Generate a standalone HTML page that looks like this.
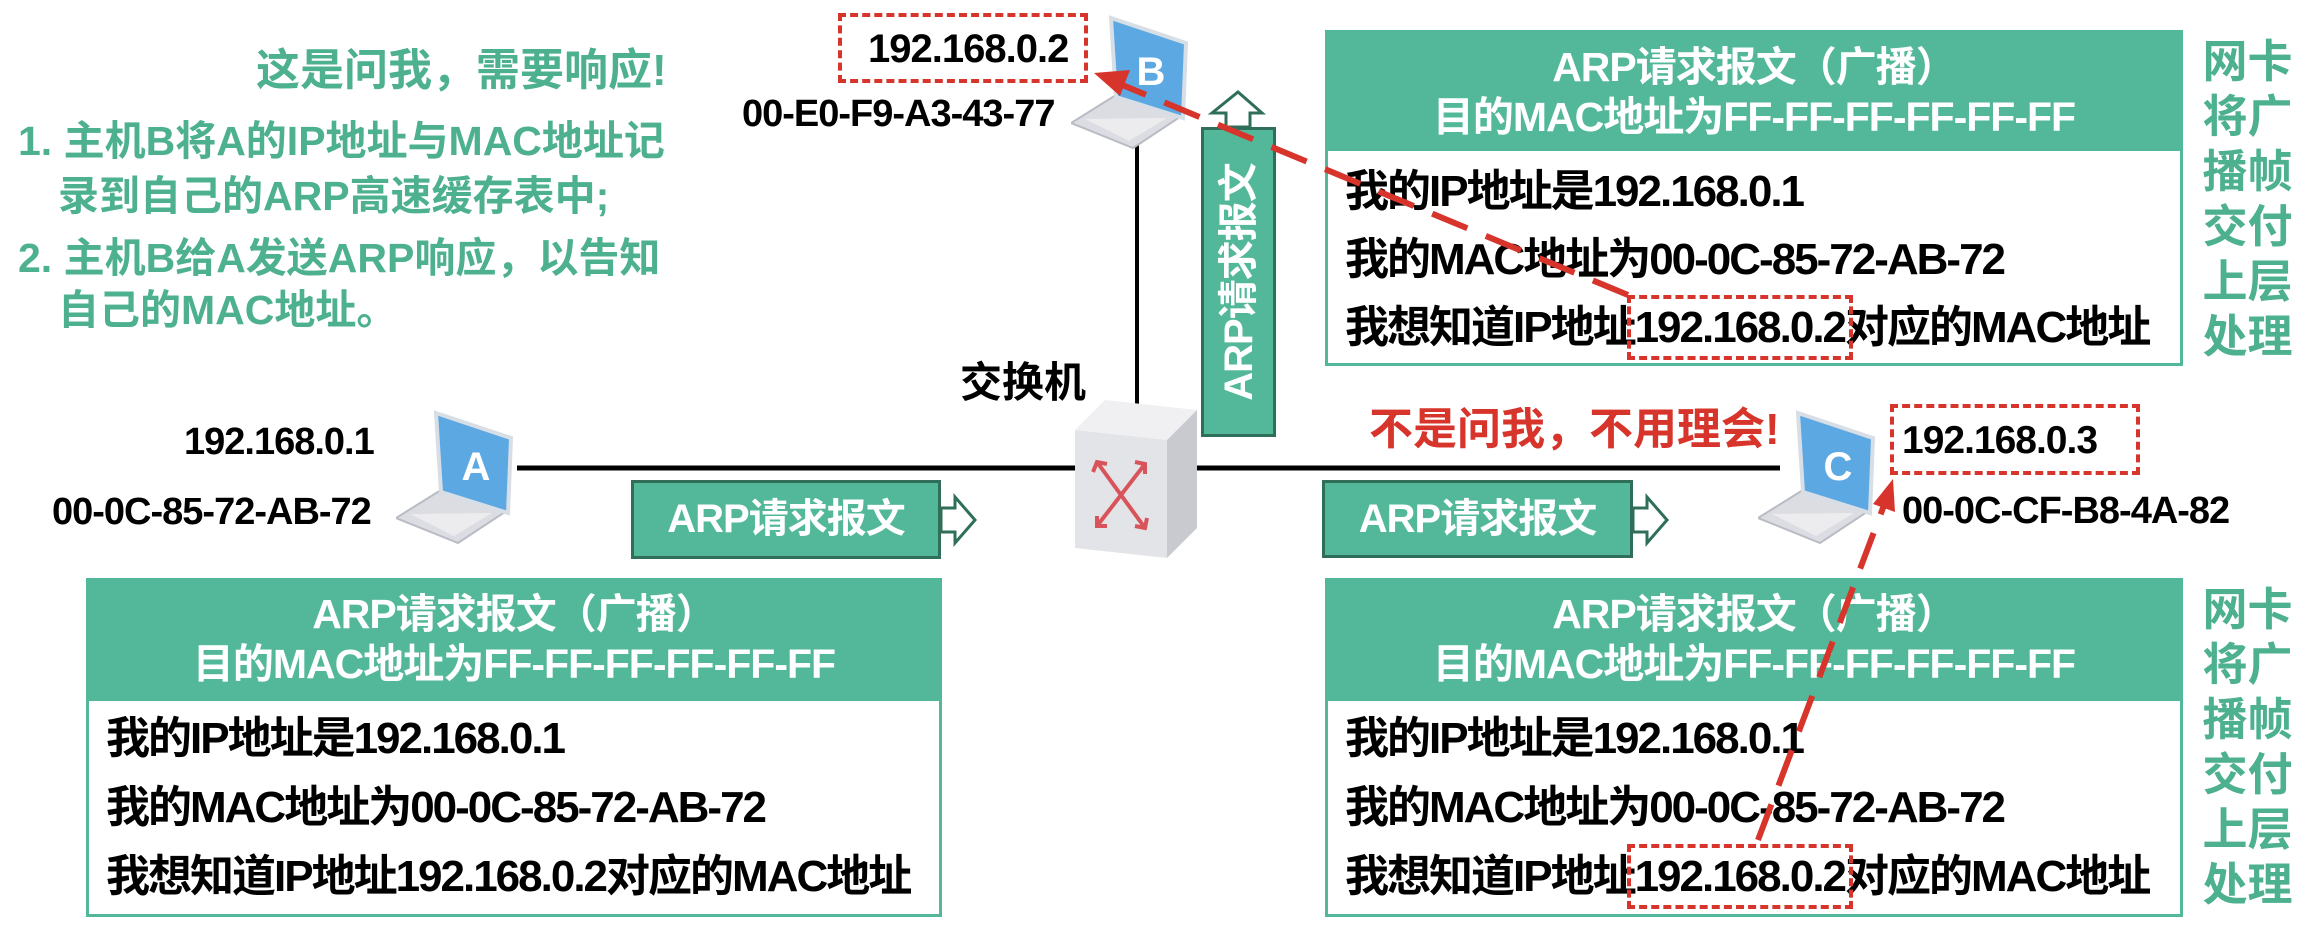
<!DOCTYPE html>
<html><head><meta charset="utf-8">
<style>
*{margin:0;padding:0;box-sizing:border-box}
body{width:2316px;height:930px;background:#fff;position:relative;overflow:hidden;font-family:"Liberation Sans","Noto Sans CJK SC",sans-serif;font-weight:bold}
.t{position:absolute;white-space:nowrap;line-height:50px;height:50px}
.g{color:#4db08f;font-size:41px}
.k{color:#000;font-size:38px;letter-spacing:-1px}
.tbl{position:absolute;border:3px solid #53b899;background:#fff}
.hd{background:#53b899;color:#fff;font-size:41px;text-align:center;letter-spacing:-1px}
.hd div{height:50px;line-height:50px}
.bl{position:absolute;left:17px;font-size:44px;letter-spacing:-2px;color:#000;line-height:50px;height:50px;white-space:nowrap}
.ds{outline:4px dashed #d7342c;outline-offset:4px}
.ab{position:absolute;background:#53b899;border:3px solid #2f6e58;color:#fff;font-size:40px;text-align:center;letter-spacing:-1px}
.vt{position:absolute;color:#4db08f;font-size:45px;width:95px;line-height:55px;text-align:center;letter-spacing:0}
.dash{position:absolute;border:4px dashed #d7342c}
</style></head><body>

<div class="t g" style="left:256px;top:46px;font-size:44px">这是问我，需要响应!</div>
<div class="t g" style="left:18px;top:116px;">1. 主机B将A的IP地址与MAC地址记</div>
<div class="t g" style="left:58px;top:171px;">录到自己的ARP高速缓存表中;</div>
<div class="t g" style="left:18px;top:233px;">2. 主机B给A发送ARP响应，以告知</div>
<div class="t g" style="left:58px;top:285px;">自己的MAC地址。</div>

<svg style="position:absolute;left:0;top:0" width="2316" height="930">
<line x1="517" y1="468" x2="1780" y2="468" stroke="#000" stroke-width="5"/>
<line x1="1137" y1="140" x2="1137" y2="410" stroke="#000" stroke-width="4"/>
</svg>

<div class="dash" style="left:838px;top:13px;width:250px;height:70px;"></div>
<div class="t k" style="left:868px;top:24px;font-size:40px">192.168.0.2</div>
<div class="t k" style="left:742px;top:89px;">00-E0-F9-A3-43-77</div>

<div class="t k" style="left:184px;top:417px;">192.168.0.1</div>
<div class="t k" style="left:52px;top:487px;">00-0C-85-72-AB-72</div>

<div class="t" style="left:960px;top:358px;font-size:42px;color:#000">交换机</div>

<svg style="position:absolute;left:1071px;top:15px" width="125" height="135" viewBox="0 0 125 135">
<polygon points="45,80 112,100 62,133 0,108" fill="#dcdde2" stroke="#b9bcc4" stroke-width="2"/>
<polygon points="14,104 96,103 58,126" fill="#ececef"/>
<polygon points="40,3 115,28 112,103 45,82" fill="#5ca8e2" stroke="#d8dee6" stroke-width="4"/>
<text x="80" y="70" font-size="40" font-family="Liberation Sans" font-weight="bold" fill="#fff" text-anchor="middle">B</text>
</svg>
<svg style="position:absolute;left:396px;top:410px" width="125" height="135" viewBox="0 0 125 135">
<polygon points="45,80 112,100 62,133 0,108" fill="#dcdde2" stroke="#b9bcc4" stroke-width="2"/>
<polygon points="14,104 96,103 58,126" fill="#ececef"/>
<polygon points="40,3 115,28 112,103 45,82" fill="#5ca8e2" stroke="#d8dee6" stroke-width="4"/>
<text x="80" y="70" font-size="40" font-family="Liberation Sans" font-weight="bold" fill="#fff" text-anchor="middle">A</text>
</svg>
<svg style="position:absolute;left:1758px;top:410px" width="125" height="135" viewBox="0 0 125 135">
<polygon points="45,80 112,100 62,133 0,108" fill="#dcdde2" stroke="#b9bcc4" stroke-width="2"/>
<polygon points="14,104 96,103 58,126" fill="#ececef"/>
<polygon points="40,3 115,28 112,103 45,82" fill="#5ca8e2" stroke="#d8dee6" stroke-width="4"/>
<text x="80" y="70" font-size="40" font-family="Liberation Sans" font-weight="bold" fill="#fff" text-anchor="middle">C</text>
</svg>

<svg style="position:absolute;left:1075px;top:400px" width="125" height="160" viewBox="0 0 125 160">
<polygon points="0,30 30,0 122,10 92,40" fill="#f0f0f3"/>
<polygon points="92,40 122,10 122,128 92,158" fill="#c9cad0"/>
<polygon points="0,30 92,40 92,158 0,148" fill="#e3e4e8"/>
<g stroke="#d8545a" stroke-width="4" fill="none">
<line x1="22" y1="62" x2="70" y2="128"/><line x1="70" y1="64" x2="22" y2="126"/>
<polyline points="18,72 22,62 32,64"/><polyline points="60,126 70,128 72,118"/>
<polyline points="60,62 70,64 70,74"/><polyline points="22,116 22,126 32,126"/>
</g>
</svg>

<div class="ab" style="left:631px;top:480px;width:310px;height:79px;line-height:72px">ARP请求报文</div>
<div class="ab" style="left:1322px;top:480px;width:311px;height:78px;line-height:72px">ARP请求报文</div>
<div class="ab" style="left:1201px;top:127px;width:75px;height:310px;"></div>
<div style="position:absolute;left:1239px;top:282px;width:0;height:0;">
<div style="position:absolute;left:-155px;top:-25px;width:310px;height:50px;line-height:50px;transform:rotate(-90deg);color:#fff;font-size:40px;text-align:center;white-space:nowrap;letter-spacing:-1px">ARP请求报文</div></div>
<svg style="position:absolute;left:0;top:0" width="2316" height="930">
<g fill="#fff" stroke="#2f6e58" stroke-width="3">
<polygon points="941,508 955,508 955,497 975,520 955,543 955,532 941,532"/>
<polygon points="1633,508 1647,508 1647,497 1667,520 1647,543 1647,532 1633,532"/>
<polygon points="1226,127 1226,113 1212,113 1238,92 1262,113 1250,113 1250,127"/>
</g>
</svg>

<div class="tbl" style="left:1325px;top:30px;width:858px;height:336px;">
<div class="hd" style="height:118px;padding-top:9px"><div>ARP请求报文（广播）</div><div>目的MAC地址为FF-FF-FF-FF-FF-FF</div></div>
<div class="bl" style="top:134px">我的IP地址是192.168.0.1</div>
<div class="bl" style="top:202px">我的MAC地址为00-0C-85-72-AB-72</div>
<div class="bl" style="top:270px">我想知道IP地址<span class="ds">192.168.0.2</span>对应的MAC地址</div>
</div>

<div class="tbl" style="left:86px;top:578px;width:856px;height:339px;">
<div class="hd" style="height:120px;padding-top:8px"><div>ARP请求报文（广播）</div><div>目的MAC地址为FF-FF-FF-FF-FF-FF</div></div>
<div class="bl" style="top:133px">我的IP地址是192.168.0.1</div>
<div class="bl" style="top:202px">我的MAC地址为00-0C-85-72-AB-72</div>
<div class="bl" style="top:271px">我想知道IP地址192.168.0.2对应的MAC地址</div>
</div>

<div class="tbl" style="left:1325px;top:578px;width:858px;height:339px;">
<div class="hd" style="height:120px;padding-top:8px"><div>ARP请求报文（广播）</div><div>目的MAC地址为FF-FF-FF-FF-FF-FF</div></div>
<div class="bl" style="top:133px">我的IP地址是192.168.0.1</div>
<div class="bl" style="top:202px">我的MAC地址为00-0C-85-72-AB-72</div>
<div class="bl" style="top:271px">我想知道IP地址<span class="ds">192.168.0.2</span>对应的MAC地址</div>
</div>

<div class="vt" style="left:2200px;top:34px">网卡<br>将广<br>播帧<br>交付<br>上层<br>处理</div>
<div class="vt" style="left:2200px;top:582px">网卡<br>将广<br>播帧<br>交付<br>上层<br>处理</div>

<div class="t" style="left:1369px;top:405px;font-size:44px;color:#d7342c">不是问我，不用理会!</div>
<div class="dash" style="left:1890px;top:404px;width:250px;height:71px;"></div>
<div class="t k" style="left:1902px;top:416px;font-size:39px">192.168.0.3</div>
<div class="t k" style="left:1902px;top:486px;">00-0C-CF-B8-4A-82</div>

<svg style="position:absolute;left:0;top:0" width="2316" height="930">
<g stroke="#d7342c" stroke-width="6" stroke-dasharray="38 20" fill="none">
<line x1="1628" y1="295" x2="1120" y2="84"/>
<line x1="1758" y1="840" x2="1886" y2="500"/>
</g>
<polygon points="1094,73 1130,70 1120,96" fill="#d7342c"/>
<polygon points="1893,479 1895,512 1873,504" fill="#d7342c"/>
</svg>
</body></html>
